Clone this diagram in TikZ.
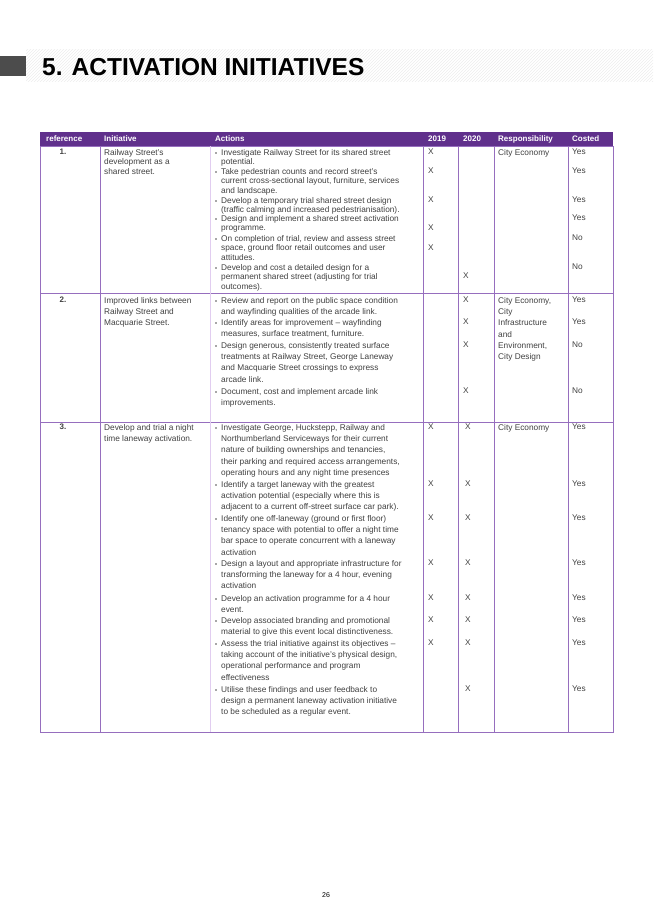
\documentclass[tikz,border=0pt]{standalone}
\usepackage{fontspec}
\setmainfont{Liberation Sans}
\usetikzlibrary{positioning,patterns}
\definecolor{hdrpurple}{RGB}{96,48,140}
\definecolor{gridpurple}{RGB}{150,110,190}
\definecolor{softpurple}{RGB}{225,205,240}
\tikzset{
  cell/.style={anchor=north west, inner sep=0pt, align=left, font=\fontsize{8.3}{9.6}\selectfont, text=black!75},
  cellw/.style={cell, font=\fontsize{8.3}{11.3}\selectfont},
  hdr/.style={anchor=west, inner sep=0pt, font=\fontsize{8}{9}\selectfont\bfseries, text=white},
  tick/.style={cell},
}
\newcommand{\bul}[3]{\fill[black!70] (216,#1+4) circle (0.9);\node[#2] at (221,#1) {#3};}
\begin{document}
\begin{tikzpicture}[x=1pt,y=-1pt]
  \useasboundingbox (0,0) rectangle (653,923);
  % title band
  \fill[pattern=north east lines, pattern color=black!7] (26,50) rectangle (653,82);
  \fill[black!70] (0,56) rectangle (26,76);
  \node[anchor=west, inner sep=0pt, font=\fontsize{24.5}{26}\selectfont\bfseries] (title) at (42,67) {5. ACTIVATION INITIATIVES};

  % header
  \fill[hdrpurple] (40,132) rectangle (613,146);
  \node[hdr] (hRef) at (46,139) {reference};
  \node[hdr] (hIni) at (104,139) {Initiative};
  \node[hdr] (hAct) at (215,139) {Actions};
  \node[hdr] (h19) at (428,139) {2019};
  \node[hdr] (h20) at (463,139) {2020};
  \node[hdr] (hRes) at (498,139) {Responsibility};
  \node[hdr] (hCos) at (572,139) {Costed};

  % grid
  \draw[gridpurple, line width=0.8pt] (40,146) rectangle (613,732);
  \draw[gridpurple, line width=0.8pt] (40,293) -- (613,293) (40,422) -- (613,422);
  \foreach \x in {100,423,458,494,568}
    \draw[gridpurple, line width=0.6pt] (\x,146) -- (\x,732);
  \draw[softpurple, line width=0.6pt] (210,146) -- (210,732);

  % row 1
  \node[cell, font=\fontsize{8}{9.5}\selectfont\bfseries, anchor=north] (r1) at (63,149) {1.};
  \node[cell] (i1) at (104,149) {Railway Street's\\development as a\\shared street.};
  \bul{149}{cell}{Investigate Railway Street for its shared street\\potential.}
  \bul{168}{cell}{Take pedestrian counts and record street's\\current cross-sectional layout, furniture, services\\and landscape.}
  \bul{197}{cell}{Develop a temporary trial shared street design\\(traffic calming and increased pedestrianisation).}
  \bul{215}{cell}{Design and implement a shared street activation\\programme.}
  \bul{235}{cell}{On completion of trial, review and assess street\\space, ground floor retail outcomes and user\\attitudes.}
  \bul{264}{cell}{Develop and cost a detailed design for a\\permanent shared street (adjusting for trial\\outcomes).}
  \foreach \y in {149,168,197,225,245} \node[tick] at (428,\y) {X};
  \node[tick] at (463,273) {X};
  \node[cell] (s1) at (498,149) {City Economy};
  \foreach \y/\t in {149/Yes,168/Yes,197/Yes,215/Yes,235/No,264/No} \node[tick] at (572,\y) {\t};

  % row 2
  \node[cell, font=\fontsize{8}{9.5}\selectfont\bfseries, anchor=north] (r2) at (63,297) {2.};
  \node[cellw] (i2) at (104,297) {Improved links between\\Railway Street and\\Macquarie Street.};
  \bul{297}{cellw}{Review and report on the public space condition\\and wayfinding qualities of the arcade link.}
  \bul{319}{cellw}{Identify areas for improvement -- wayfinding\\measures, surface treatment, furniture.}
  \bul{342}{cellw}{Design generous, consistently treated surface\\treatments at Railway Street, George Laneway\\and Macquarie Street crossings to express\\arcade link.}
  \bul{388}{cellw}{Document, cost and implement arcade link\\improvements.}
  \foreach \y in {297,319,342,388} \node[tick] at (463,\y) {X};
  \node[cellw] (s2) at (498,297) {City Economy,\\City\\Infrastructure\\and\\Environment,\\City Design};
  \foreach \y/\t in {297/Yes,319/Yes,342/No,388/No} \node[tick] at (572,\y) {\t};

  % row 3
  \node[cell, font=\fontsize{8}{9.5}\selectfont\bfseries, anchor=north] (r3) at (63,424) {3.};
  \node[cellw] (i3) at (104,424) {Develop and trial a night\\time laneway activation.};
  \bul{424}{cellw}{Investigate George, Huckstepp, Railway and\\Northumberland Serviceways for their current\\nature of building ownerships and tenancies,\\their parking and required access arrangements,\\operating hours and any night time presences};
  \bul{481}{cellw}{Identify a target laneway with the greatest\\activation potential (especially where this is\\adjacent to a current off-street surface car park).}
  \bul{515}{cellw}{Identify one off-laneway (ground or first floor)\\tenancy space with potential to offer a night time\\bar space to operate concurrent with a laneway\\activation}
  \bul{560}{cellw}{Design a layout and appropriate infrastructure for\\transforming the laneway for a 4 hour, evening\\activation}
  \bul{595}{cellw}{Develop an activation programme for a 4 hour\\event.}
  \bul{617}{cellw}{Develop associated branding and promotional\\material to give this event local distinctiveness.}
  \bul{640}{cellw}{Assess the trial initiative against its objectives --\\taking account of the initiative's physical design,\\operational performance and program\\effectiveness}
  \bul{686}{cellw}{Utilise these findings and user feedback to\\design a permanent laneway activation initiative\\to be scheduled as a regular event.}
  \foreach \y in {424,481,515,560,595,617,640} {
    \node[tick] at (428,\y) {X};
    \node[tick] at (465,\y) {X};
  }
  \node[tick] at (465,686) {X};
  \node[cell] (s3) at (498,424) {City Economy};
  \foreach \y in {424,481,515,560,595,617,640,686} \node[tick] at (572,\y) {Yes};

  % page number
  \node[font=\rmfamily\fontsize{7}{8}\selectfont] (page) at (326,895) {26};
\end{tikzpicture}
\end{document}
